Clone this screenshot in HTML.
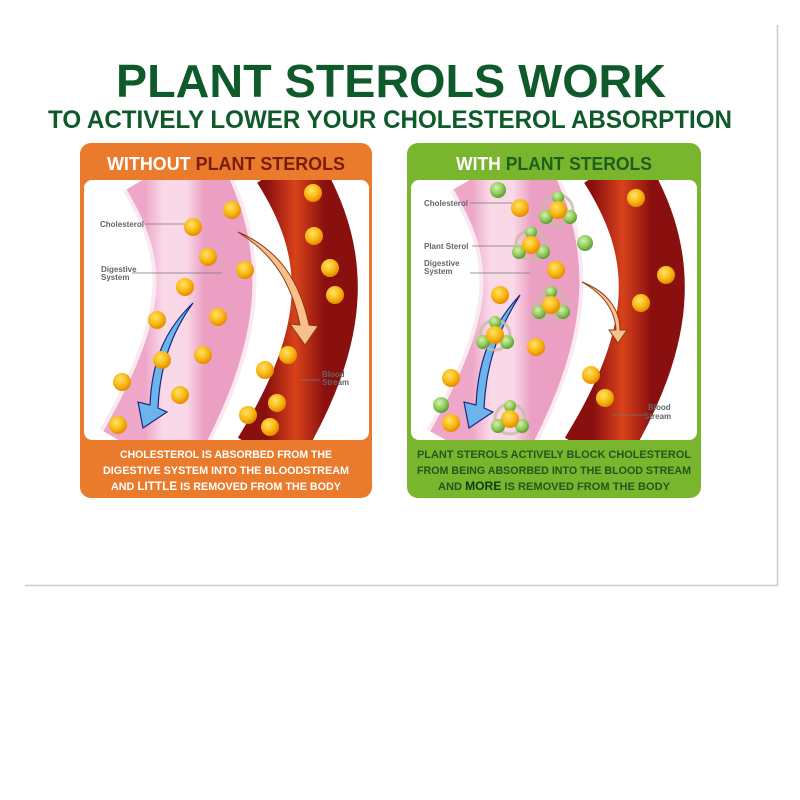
<!DOCTYPE html>
<html><head><meta charset="utf-8"><style>html,body{margin:0;padding:0;background:#fff}svg{display:block}</style></head>
<body>
<svg width="800" height="800" viewBox="0 0 800 800" xmlns="http://www.w3.org/2000/svg" font-family="Liberation Sans, sans-serif">
<defs>
<radialGradient id="yb" cx="40%" cy="35%" r="65%"><stop offset="0" stop-color="#ffe36a"/><stop offset="0.6" stop-color="#f8b812"/><stop offset="1" stop-color="#e48a00"/></radialGradient>
<radialGradient id="gb" cx="40%" cy="35%" r="65%"><stop offset="0" stop-color="#d6f0b0"/><stop offset="0.6" stop-color="#8fcb5a"/><stop offset="1" stop-color="#5a9a30"/></radialGradient>
<linearGradient id="pk" x1="0" x2="1"><stop offset="0" stop-color="#eea7c8"/><stop offset="0.3" stop-color="#f9d8e7"/><stop offset="0.7" stop-color="#f9d8e7"/><stop offset="1" stop-color="#eb9fc3"/></linearGradient>
<linearGradient id="rd" x1="0" x2="1"><stop offset="0" stop-color="#8a0f0f"/><stop offset="0.5" stop-color="#d8421a"/><stop offset="1" stop-color="#8a0f0f"/></linearGradient>
<clipPath id="c1"><rect x="84" y="180" width="285" height="260" rx="8"/></clipPath>
<clipPath id="c2"><rect x="411" y="180" width="286" height="260" rx="8"/></clipPath>
<g id="y"><circle r="9" fill="url(#yb)"/></g>
<g id="g"><circle r="8" fill="url(#gb)"/></g>
<g id="cl"><circle r="15" fill="none" stroke="#c9b9a6" stroke-width="3" opacity="0.8"/><circle cx="0" cy="-13" r="6" fill="url(#gb)"/><circle cx="-12" cy="7" r="7" fill="url(#gb)"/><circle cx="12" cy="7" r="7" fill="url(#gb)"/><circle r="9" fill="url(#yb)"/></g>
</defs>
<rect x="25" y="22" width="752" height="563" fill="#fff"/>
<line x1="777.5" y1="25" x2="777.5" y2="586" stroke="#ccc" stroke-width="1.5"/>
<line x1="25" y1="585.5" x2="778" y2="585.5" stroke="#ccc" stroke-width="1.5"/>

<text x="391" y="97" font-size="46" font-weight="bold" fill="#0e5a2a" text-anchor="middle" textLength="550" lengthAdjust="spacingAndGlyphs">PLANT STEROLS WORK</text>
<text x="390" y="128" font-size="25" font-weight="bold" fill="#0e5a2a" text-anchor="middle" textLength="684" lengthAdjust="spacingAndGlyphs">TO ACTIVELY LOWER YOUR CHOLESTEROL ABSORPTION</text>

<!-- LEFT PANEL -->
<rect x="80" y="143" width="292" height="355" rx="11" fill="#ea7a2c"/>
<text x="226" y="170" font-size="18" font-weight="bold" text-anchor="middle" textLength="238" lengthAdjust="spacingAndGlyphs"><tspan fill="#fff">WITHOUT </tspan><tspan fill="#7a1c0b">PLANT STEROLS</tspan></text>
<rect x="84" y="180" width="285" height="260" rx="8" fill="#fff"/>
<g clip-path="url(#c1)">
<path d="M168 165 C218 250,222 320,145 455" fill="none" stroke="#fbe9f1" stroke-width="104"/>
<path d="M168 165 C218 250,222 320,145 455" fill="none" stroke="url(#pk)" stroke-width="96"/>
<path d="M285 165 C339 250,343 330,266 455" fill="none" stroke="url(#rd)" stroke-width="66"/>
</g>
<g font-size="8" font-weight="bold" fill="#666">
<text x="100" y="227">Cholesterol</text><line x1="145" y1="224" x2="186" y2="224" stroke="#777" stroke-width="0.7"/>
<text x="101" y="272">Digestive</text><text x="101" y="280">System</text><line x1="132" y1="273" x2="222" y2="273" stroke="#777" stroke-width="0.7"/>
<text x="322" y="377">Blood</text><text x="322" y="385">Stream</text><line x1="300" y1="380" x2="320" y2="380" stroke="#777" stroke-width="0.7"/>
</g>
<g>
<use href="#y" x="232" y="210"/><use href="#y" x="193" y="227"/><use href="#y" x="208" y="257"/><use href="#y" x="245" y="270"/>
<use href="#y" x="185" y="287"/><use href="#y" x="218" y="317"/><use href="#y" x="157" y="320"/><use href="#y" x="203" y="355"/>
<use href="#y" x="122" y="382"/><use href="#y" x="180" y="395"/><use href="#y" x="118" y="425"/>
<use href="#y" x="313" y="193"/><use href="#y" x="314" y="236"/><use href="#y" x="330" y="268"/><use href="#y" x="335" y="295"/>
<use href="#y" x="288" y="355"/><use href="#y" x="265" y="370"/><use href="#y" x="277" y="403"/><use href="#y" x="248" y="415"/><use href="#y" x="270" y="427"/>
</g>
<path d="M238 232 C275 255,292 285,300 325 L290 324 L305 345 L318 326 L309 325 C300 282,280 250,238 232 Z" fill="#f9c08e" stroke="#8a3a10" stroke-width="1"/>
<path d="M193 303 C165 330,152 360,150 405 L138 402 L143 428 L167 412 L158 408 C160 365,172 332,193 303 Z" fill="#6bb4ec" stroke="#1a2a80" stroke-width="1.2"/>
<use href="#y" x="162" y="360"/>
<text x="226" y="458" font-size="11" font-weight="bold" fill="#fff" text-anchor="middle" textLength="212" lengthAdjust="spacingAndGlyphs">CHOLESTEROL IS ABSORBED FROM THE</text>
<text x="226" y="474" font-size="11" font-weight="bold" fill="#fff" text-anchor="middle" textLength="246" lengthAdjust="spacingAndGlyphs">DIGESTIVE SYSTEM INTO THE BLOODSTREAM</text>
<text x="226" y="490" font-size="11" font-weight="bold" fill="#fff" text-anchor="middle" textLength="230" lengthAdjust="spacingAndGlyphs">AND <tspan font-size="12">LITTLE</tspan> IS REMOVED FROM THE BODY</text>

<!-- RIGHT PANEL -->
<rect x="407" y="143" width="294" height="355" rx="11" fill="#7ab52e"/>
<text x="554" y="170" font-size="18" font-weight="bold" text-anchor="middle" textLength="196" lengthAdjust="spacingAndGlyphs"><tspan fill="#fff">WITH </tspan><tspan fill="#1e5e1e">PLANT STEROLS</tspan></text>
<rect x="411" y="180" width="286" height="260" rx="8" fill="#fff"/>
<g clip-path="url(#c2)">
<path d="M495 165 C545 250,549 320,472 455" fill="none" stroke="#fbe9f1" stroke-width="104"/>
<path d="M495 165 C545 250,549 320,472 455" fill="none" stroke="url(#pk)" stroke-width="96"/>
<path d="M612 165 C666 250,670 330,593 455" fill="none" stroke="url(#rd)" stroke-width="66"/>
</g>
<g font-size="8" font-weight="bold" fill="#666">
<text x="424" y="206">Cholesterol</text><line x1="470" y1="203" x2="512" y2="203" stroke="#777" stroke-width="0.7"/>
<text x="424" y="249">Plant Sterol</text><line x1="472" y1="246" x2="518" y2="246" stroke="#777" stroke-width="0.7"/>
<text x="424" y="266">Digestive</text><text x="424" y="274">System</text><line x1="470" y1="273" x2="530" y2="273" stroke="#777" stroke-width="0.7"/>
<text x="648" y="410">Blood</text><text x="644" y="419">Stream</text><line x1="612" y1="415" x2="644" y2="415" stroke="#777" stroke-width="0.7"/>
</g>
<use href="#g" x="498" y="190"/><use href="#g" x="585" y="243"/><use href="#g" x="441" y="405"/>
<use href="#y" x="520" y="208"/><use href="#y" x="556" y="270"/><use href="#y" x="500" y="295"/><use href="#y" x="536" y="347"/>
<use href="#y" x="451" y="378"/><use href="#y" x="451" y="423"/>
<use href="#y" x="636" y="198"/><use href="#y" x="666" y="275"/><use href="#y" x="641" y="303"/><use href="#y" x="591" y="375"/><use href="#y" x="605" y="398"/>
<use href="#cl" x="558" y="210"/><use href="#cl" x="531" y="245"/><use href="#cl" x="551" y="305"/><use href="#cl" x="510" y="419"/>
<path d="M582 282 C605 295,615 312,616 330 L609 330 L618 343 L627 330 L620 330 C620 310,608 292,582 282 Z" fill="#f9c08e" stroke="#8a3a10" stroke-width="1"/>
<path d="M520 295 C492 325,478 360,476 405 L464 402 L469 428 L493 412 L484 408 C486 365,498 330,520 295 Z" fill="#6bb4ec" stroke="#1a2a80" stroke-width="1.2"/>
<use href="#cl" x="495" y="335"/>
<text x="554" y="458" font-size="11" font-weight="bold" fill="#1d5a1d" text-anchor="middle" textLength="274" lengthAdjust="spacingAndGlyphs">PLANT STEROLS ACTIVELY BLOCK CHOLESTEROL</text>
<text x="554" y="474" font-size="11" font-weight="bold" fill="#1d5a1d" text-anchor="middle" textLength="274" lengthAdjust="spacingAndGlyphs">FROM BEING ABSORBED INTO THE BLOOD STREAM</text>
<text x="554" y="490" font-size="11" font-weight="bold" fill="#1d5a1d" text-anchor="middle" textLength="232" lengthAdjust="spacingAndGlyphs">AND <tspan fill="#0c3e0c" font-size="12">MORE</tspan> IS REMOVED FROM THE BODY</text>
</svg>
</body></html>
